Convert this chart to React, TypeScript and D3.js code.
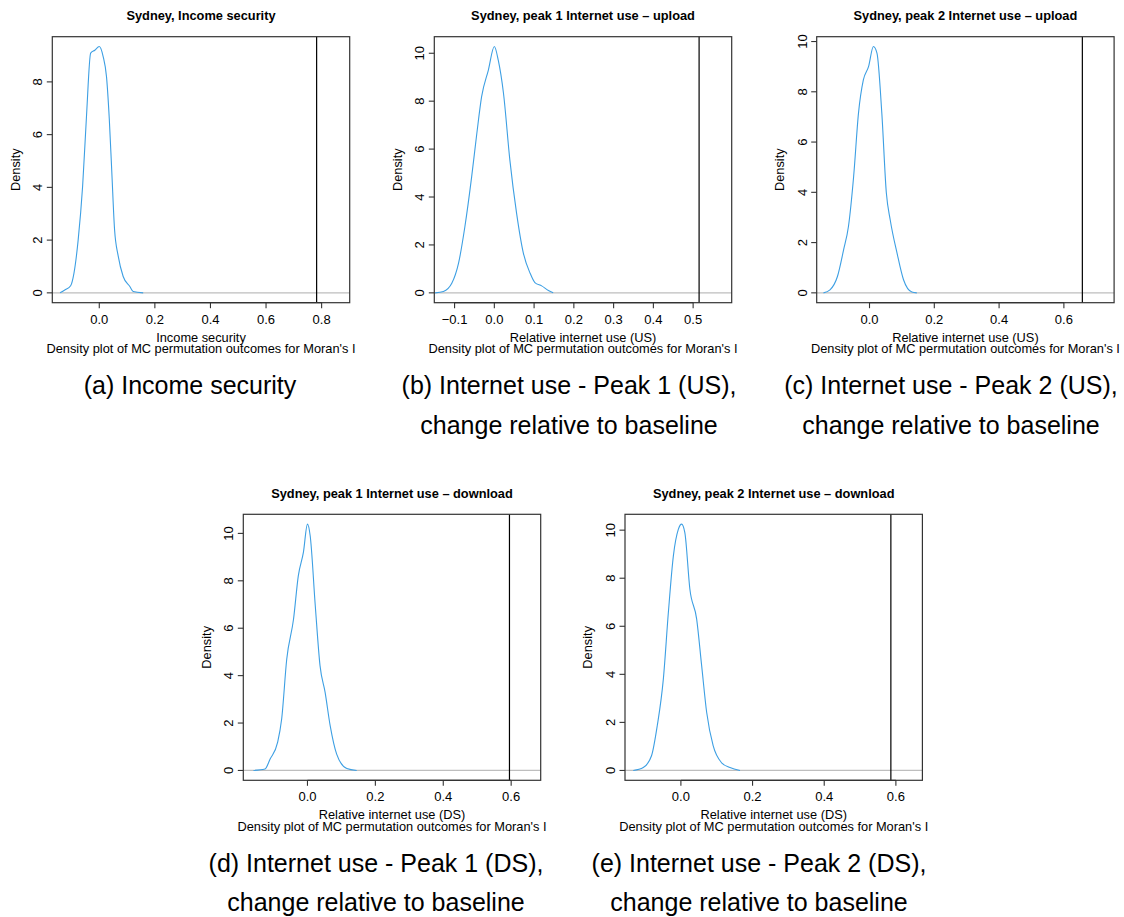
import React from "react";
import * as d3 from "d3";

// ---------- Data ----------
const titles = [
  "Sydney, Income security",
  "Sydney, peak 1 Internet use \u2013 upload",
  "Sydney, peak 2 Internet use \u2013 upload",
  "Sydney, peak 1 Internet use \u2013 download",
  "Sydney, peak 2 Internet use \u2013 download",
];
const xLabels = [
  "Income security",
  "Relative internet use (US)",
  "Relative internet use (US)",
  "Relative internet use (DS)",
  "Relative internet use (DS)",
];
const subLabel = "Density plot of MC permutation outcomes for Moran's I";
const captions = [
  ["(a) Income security"],
  ["(b) Internet use - Peak 1 (US),", "change relative to baseline"],
  ["(c) Internet use - Peak 2 (US),", "change relative to baseline"],
  ["(d) Internet use - Peak 1 (DS),", "change relative to baseline"],
  ["(e) Internet use - Peak 2 (DS),", "change relative to baseline"],
];

// observed Moran's I (vertical line)
const observed = [0.782, 0.515, 0.657, 0.595, 0.586];

// x axis limits
const xLims = [
  [-0.169, 0.901],
  [-0.151, 0.597],
  [-0.163, 0.755],
  [-0.189, 0.687],
  [-0.156, 0.674],
];

const xTicks = [
  [0, 0.2, 0.4, 0.6, 0.8],
  [-0.1, 0, 0.1, 0.2, 0.3, 0.4, 0.5],
  [0, 0.2, 0.4, 0.6],
  [0, 0.2, 0.4, 0.6],
  [0, 0.2, 0.4, 0.6],
];
const yTicks = [
  [0, 2, 4, 6, 8],
  [0, 2, 4, 6, 8, 10],
  [0, 2, 4, 6, 8, 10],
  [0, 2, 4, 6, 8, 10],
  [0, 2, 4, 6, 8, 10],
];

// density curves
const incomeX = [-0.141, -0.124, -0.103, -0.091, -0.076, -0.06, -0.046, -0.031, -0.016, 0.0, 0.014, 0.026, 0.036, 0.045, 0.055, 0.068, 0.086, 0.11, 0.122, 0.158];
const incomeY = [0, 0.11, 0.27, 0.75, 2.0, 4.03, 6.7, 9.09, 9.2, 9.34, 8.96, 8.2, 6.6, 4.6, 2.4, 1.4, 0.62, 0.24, 0.05, 0];

const up1X = [-0.149, -0.128, -0.107, -0.09, -0.074, -0.057, -0.044, -0.032, -0.015, 0.0, 0.01, 0.023, 0.039, 0.056, 0.073, 0.09, 0.102, 0.119, 0.136, 0.148];
const up1Y = [0, 0.06, 0.4, 1.24, 2.77, 4.85, 6.66, 8.19, 9.3, 10.28, 9.7, 8.33, 5.55, 3.32, 1.66, 0.82, 0.43, 0.29, 0.1, 0];

const up2X = [-0.142, -0.122, -0.099, -0.08, -0.065, -0.049, -0.034, -0.019, -0.003, 0.012, 0.023, 0.038, 0.052, 0.064, 0.085, 0.105, 0.131, 0.146];
const up2Y = [0, 0.12, 0.65, 1.71, 2.64, 4.63, 7.15, 8.47, 9.0, 9.8, 9.54, 7.15, 3.97, 2.9, 1.58, 0.52, 0.03, 0];

const dn1X = [-0.159, -0.125, -0.11, -0.088, -0.076, -0.061, -0.041, -0.027, -0.012, 0.0, 0.008, 0.023, 0.037, 0.052, 0.067, 0.086, 0.116, 0.145];
const dn1Y = [0, 0.06, 0.48, 1.18, 2.17, 4.7, 6.39, 8.21, 9.2, 10.39, 9.9, 6.95, 4.42, 3.29, 1.88, 0.69, 0.08, 0];

const dn2X = [-0.133, -0.105, -0.082, -0.066, -0.049, -0.035, -0.021, -0.007, 0.002, 0.011, 0.025, 0.044, 0.058, 0.072, 0.09, 0.113, 0.137, 0.165];
const dn2Y = [0, 0.12, 0.61, 1.86, 3.8, 6.57, 8.93, 10.04, 10.25, 9.9, 7.55, 6.3, 4.35, 2.41, 1.03, 0.33, 0.12, 0];

const curveXs = [incomeX, up1X, up2X, dn1X, dn2X];
const curveYs = [incomeY, up1Y, up2Y, dn1Y, dn2Y];

// ---------- Layout ----------
const PW = 297.4;
const PH = 266;
const origins: [number, number][] = [
  [52.3, 36.7],
  [434.3, 36.7],
  [816.7, 36.7],
  [243.3, 514.3],
  [625, 514.3],
];
const captionCenters = [190, 569, 951, 376, 759];
const captionYs = [
  [385, 425],
  [385, 425],
  [385, 425],
  [863, 902],
];

const FONT = "'Liberation Sans', Arial, Helvetica, sans-serif";
const CURVE = "#3d9fe3";

function fmt(v: number) {
  return v.toFixed(1);
}

function Panel({ i }: { i: number }) {
  const [ox, oy] = origins[i];
  const xs = curveXs[i];
  const ys = curveYs[i];
  const ymax = d3.max(ys) as number;
  const pad = ymax * 0.04;
  const x = d3.scaleLinear().domain(xLims[i]).range([ox, ox + PW]);
  const y = d3.scaleLinear().domain([-pad, ymax + pad]).range([oy + PH, oy]);
  const line = d3
    .line<number>()
    .x((_, k) => x(xs[k]))
    .y((d) => y(d))
    .curve(d3.curveMonotoneX);
  const bottom = oy + PH;
  const cx = ox + PW / 2;
  const cy = oy + PH / 2;
  const xt = xTicks[i];
  const yt = yTicks[i];
  return (
    <g>
      <text x={cx} y={oy - 21} textAnchor="middle" dominantBaseline="central" fontFamily={FONT} fontWeight="bold" fontSize={12.8} fill="#000">
        {titles[i]}
      </text>
      {/* zero line */}
      <line x1={ox} x2={ox + PW} y1={y(0)} y2={y(0)} stroke="#bebebe" strokeWidth={1.2} />
      {/* density */}
      <path d={line(ys) || ""} fill="none" stroke={CURVE} strokeWidth={1.1} />
      {/* observed */}
      <line x1={x(observed[i])} x2={x(observed[i])} y1={oy} y2={bottom} stroke="#000" strokeWidth={1.2} />
      {/* box */}
      <rect x={ox} y={oy} width={PW} height={PH} fill="none" stroke="#333" strokeWidth={1.2} />
      {/* x axis */}
      <line x1={x(xt[0])} x2={x(xt[xt.length - 1])} y1={bottom} y2={bottom} stroke="#333" strokeWidth={1.2} />
      {xt.map((t) => (
        <g key={"x" + t}>
          <line x1={x(t)} x2={x(t)} y1={bottom} y2={bottom + 5.5} stroke="#333" strokeWidth={1.1} />
          <text x={x(t)} y={bottom + 16.5} textAnchor="middle" dominantBaseline="central" fontFamily={FONT} fontSize={13} fill="#000">
            {t < 0 ? "\u2212" + fmt(-t) : fmt(t)}
          </text>
        </g>
      ))}
      {/* y axis */}
      {yt.map((t) => (
        <g key={"y" + t}>
          <line x1={ox} x2={ox - 5.5} y1={y(t)} y2={y(t)} stroke="#333" strokeWidth={1.1} />
          <text
            x={ox - 14.5}
            y={y(t)}
            transform={`rotate(-90, ${ox - 14.5}, ${y(t)})`}
            textAnchor="middle"
            dominantBaseline="central"
            fontFamily={FONT}
            fontSize={13}
            fill="#000"
          >
            {t}
          </text>
        </g>
      ))}
      <text x={ox - 37} y={cy} transform={`rotate(-90, ${ox - 37}, ${cy})`} textAnchor="middle" dominantBaseline="central" fontFamily={FONT} fontSize={12.8} fill="#000">
        Density
      </text>
      <text x={cx} y={bottom + 34.5} textAnchor="middle" dominantBaseline="central" fontFamily={FONT} fontSize={12.8} fill="#000">
        {xLabels[i]}
      </text>
      <text x={cx} y={bottom + 45.8} textAnchor="middle" dominantBaseline="central" fontFamily={FONT} fontSize={12.8} fill="#000">
        {subLabel}
      </text>
      {captions[i].map((c, k) => (
        <text
          key={k}
          x={captionCenters[i]}
          y={(i < 3 ? captionYs[0] : captionYs[3])[k]}
          textAnchor="middle"
          dominantBaseline="central"
          fontFamily={FONT}
          fontSize={25}
          fill="#000"
        >
          {c}
        </text>
      ))}
    </g>
  );
}

export default function App() {
  return (
    <svg
      width={1124}
      height={917}
      viewBox="0 0 1124 917"
      style={{ position: "absolute", left: 0, top: 0, background: "#fff" }}
    >
      <rect x={0} y={0} width={1124} height={917} fill="#fff" />
      {[0, 1, 2, 3, 4].map((i) => (
        <Panel key={i} i={i} />
      ))}
    </svg>
  );
}
